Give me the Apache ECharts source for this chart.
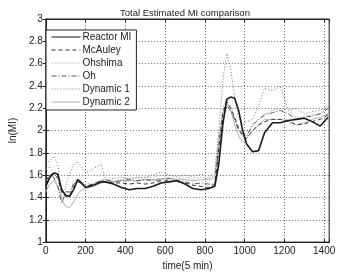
<!DOCTYPE html>
<html lang="en">
<head>
    <meta charset="UTF-8">
    <title>Total Estimated MI comparison</title>
    <script src="https://cdn.jsdelivr.net/npm/echarts/dist/echarts.min.js"></script>
    <style>
        body { margin: 0; background: #fff; }
    </style>
</head>
<body>
    <div id="main" style="width: 338px;height:276px;"></div>

    <script>
        // time (5 min) sample points
        var time = [0, 20, 40, 60, 80, 100, 120, 140, 160, 180, 200, 240, 280, 300, 340, 380, 420, 460, 500, 540,
            580, 620, 660, 700, 740, 780, 820, 850, 870, 890, 910, 930, 950, 970, 990, 1010, 1040, 1070, 1100,
            1140, 1180, 1220, 1260, 1300, 1340, 1380, 1420];

        var reactorMI = [1.50, 1.58, 1.62, 1.61, 1.47, 1.42, 1.41, 1.47, 1.56, 1.53, 1.49, 1.51, 1.54, 1.54, 1.52, 1.49, 1.47, 1.48, 1.48, 1.50,
            1.53, 1.54, 1.55, 1.52, 1.48, 1.47, 1.48, 1.50, 1.70, 2.05, 2.28, 2.30, 2.29, 2.18, 2.00, 1.88, 1.81, 1.82, 1.98,
            2.07, 2.07, 2.09, 2.10, 2.11, 2.08, 2.04, 2.12];
        var mcauley = [1.55, 1.60, 1.61, 1.58, 1.45, 1.41, 1.42, 1.50, 1.54, 1.53, 1.50, 1.52, 1.55, 1.54, 1.53, 1.53, 1.52, 1.53, 1.52, 1.53,
            1.55, 1.55, 1.54, 1.53, 1.51, 1.50, 1.49, 1.52, 1.85, 2.15, 2.26, 2.20, 2.12, 2.02, 1.95, 1.93, 2.00, 2.05, 2.08,
            2.10, 2.10, 2.09, 2.05, 2.06, 2.08, 2.10, 2.14];
        var ohshima = [1.65, 1.68, 1.62, 1.55, 1.42, 1.40, 1.42, 1.55, 1.57, 1.54, 1.52, 1.53, 1.56, 1.56, 1.55, 1.56, 1.57, 1.57, 1.58, 1.58,
            1.60, 1.58, 1.57, 1.58, 1.57, 1.58, 1.57, 1.60, 1.95, 2.20, 2.28, 2.22, 2.10, 2.00, 1.95, 2.00, 2.05, 2.10, 2.15,
            2.18, 2.20, 2.18, 2.12, 2.12, 2.14, 2.15, 2.20];
        var oh = [1.55, 1.60, 1.58, 1.50, 1.35, 1.45, 1.45, 1.52, 1.55, 1.52, 1.50, 1.52, 1.55, 1.56, 1.54, 1.55, 1.56, 1.55, 1.56, 1.55,
            1.56, 1.57, 1.55, 1.54, 1.52, 1.53, 1.52, 1.52, 1.80, 2.10, 2.22, 2.18, 2.10, 2.00, 1.97, 1.95, 2.05, 2.10, 2.14,
            2.16, 2.18, 2.15, 2.10, 2.12, 2.13, 2.15, 2.20];
        var dynamic1 = [1.70, 1.73, 1.77, 1.70, 1.42, 1.50, 1.62, 1.70, 1.72, 1.67, 1.62, 1.66, 1.70, 1.56, 1.57, 1.58, 1.57, 1.58, 1.58, 1.60,
            1.63, 1.60, 1.59, 1.60, 1.59, 1.61, 1.58, 1.63, 2.00, 2.45, 2.69, 2.55, 2.30, 2.10, 2.06, 2.08, 2.10, 2.22, 2.38,
            2.36, 2.40, 2.18, 2.20, 2.15, 2.17, 2.18, 2.22];
        var dynamic2 = [1.45, 1.52, 1.55, 1.50, 1.38, 1.32, 1.31, 1.36, 1.43, 1.47, 1.48, 1.50, 1.53, 1.54, 1.54, 1.55, 1.55, 1.55, 1.56, 1.56,
            1.57, 1.57, 1.56, 1.56, 1.55, 1.56, 1.56, 1.58, 1.90, 2.15, 2.25, 2.18, 2.05, 1.95, 1.90, 1.93, 2.00, 2.05, 2.10,
            2.10, 2.10, 2.08, 2.05, 2.07, 2.10, 2.12, 2.15];

        function pairs(vals) {
            return time.map(function (t, i) { return [t, vals[i]]; });
        }

        var font = '"Liberation Sans", Arial, sans-serif';
        var grid = { type: [1, 2], color: '#444', width: 0.8 };

        var myChart = echarts.init(document.getElementById('main'));

        var option = {
            animation: false,
            backgroundColor: '#fff',
            title: {
                text: 'Total Estimated MI comparison',
                left: 180,
                textAlign: 'center',
                top: 3,
                textStyle: { fontSize: 9.5, fontWeight: 'normal', color: '#222', fontFamily: font }
            },
            legend: {
                orient: 'vertical',
                left: 46,
                top: 30,
                backgroundColor: '#fff',
                borderColor: '#222',
                borderWidth: 1,
                borderRadius: 0,
                padding: [1, 5, 2, 5],
                itemWidth: 29,
                itemHeight: 10,
                itemGap: 1,
                itemStyle: { opacity: 0 },
                lineStyle: { width: 1 },
                textStyle: { fontSize: 10, color: '#222', fontFamily: font, lineHeight: 12, padding: [0, 0, 0, -3] },
                data: ['Reactor MI', 'McAuley', 'Ohshima', 'Oh', 'Dynamic 1', 'Dynamic 2']
            },
            grid: {
                left: 29, top: 19, right: 8, bottom: 22,
                show: true, borderColor: '#222', borderWidth: 1
            },
            xAxis: [{
                type: 'value',
                min: 0, max: 1425, interval: 200,
                name: 'time(5 min)',
                nameLocation: 'middle',
                nameGap: 17,
                nameTextStyle: { fontSize: 10, color: '#222', fontFamily: font },
                axisLine: { lineStyle: { color: '#222' } },
                axisTick: { inside: true, length: 3, lineStyle: { color: '#222' } },
                axisLabel: {
                    fontSize: 10, color: '#222', fontFamily: font, margin: 4,
                    formatter: function (v) { return v % 200 === 0 ? String(v) : ''; }
                },
                splitLine: { show: true, lineStyle: grid }
            }, {
                type: 'value', position: 'top',
                min: 0, max: 1425, interval: 200,
                axisLine: { lineStyle: { color: '#222' } },
                axisTick: { inside: true, length: 3, lineStyle: { color: '#222' } },
                axisLabel: { show: false },
                splitLine: { show: false }
            }],
            yAxis: [{
                type: 'value',
                min: 1, max: 3, interval: 0.2,
                name: 'ln(MI)',
                nameLocation: 'middle',
                nameGap: 24,
                nameRotate: 90,
                nameTextStyle: { fontSize: 10, color: '#222', fontFamily: font },
                axisLine: { show: true, lineStyle: { color: '#222' } },
                axisTick: { show: true, inside: true, length: 3, lineStyle: { color: '#222' } },
                axisLabel: {
                    fontSize: 10, color: '#222', fontFamily: font, margin: 3,
                    formatter: function (v) { return String(Math.round(v * 10) / 10); }
                },
                splitLine: { show: true, lineStyle: grid }
            }, {
                type: 'value', position: 'right',
                min: 1, max: 3, interval: 0.2,
                axisLine: { show: true, lineStyle: { color: '#222' } },
                axisTick: { show: true, inside: true, length: 3, lineStyle: { color: '#222' } },
                axisLabel: { show: false },
                splitLine: { show: false }
            }],
            series: [{
                name: 'Reactor MI', type: 'line', symbol: 'none', z: 10,
                color: '#1a1a1a',
                lineStyle: { width: 1.6, color: '#1a1a1a' },
                data: pairs(reactorMI)
            }, {
                name: 'McAuley', type: 'line', symbol: 'none', z: 8,
                color: '#333',
                lineStyle: { width: 1, color: '#333', type: [4, 3] },
                data: pairs(mcauley)
            }, {
                name: 'Ohshima', type: 'line', symbol: 'none', z: 4,
                color: '#9a9a9a',
                lineStyle: { width: 1, color: '#9a9a9a', type: [1, 2] },
                data: pairs(ohshima)
            }, {
                name: 'Oh', type: 'line', symbol: 'none', z: 6,
                color: '#555',
                lineStyle: { width: 1, color: '#555', type: [5, 2, 1, 2] },
                data: pairs(oh)
            }, {
                name: 'Dynamic 1', type: 'line', symbol: 'none', z: 5,
                color: '#777',
                lineStyle: { width: 1, color: '#777', type: [1, 2] },
                data: pairs(dynamic1)
            }, {
                name: 'Dynamic 2', type: 'line', symbol: 'none', z: 3,
                color: '#b0b0b0',
                lineStyle: { width: 1, color: '#b0b0b0' },
                data: pairs(dynamic2)
            }]
        };

        myChart.setOption(option);
    </script>
</body>
</html>
